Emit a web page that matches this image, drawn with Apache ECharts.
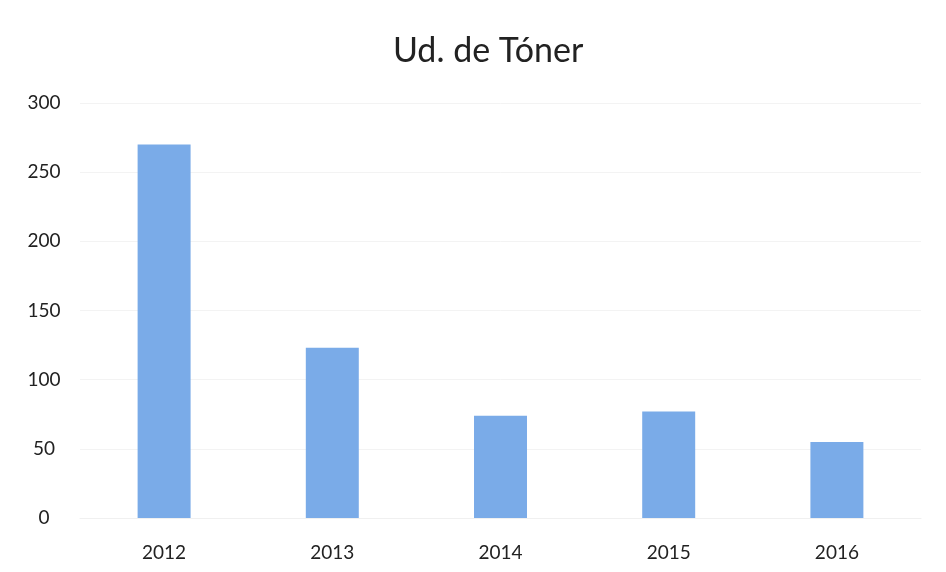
<!DOCTYPE html>
<html>
<head>
<meta charset="utf-8">
<script src="https://cdn.jsdelivr.net/npm/echarts@6/dist/echarts.min.js"></script>
<style>
  html, body { margin: 0; padding: 0; background: #fff; }
  #chart { width: 946px; height: 572px; }
</style>
</head>
<body>
<div id="chart"></div>
<script>
const years = ['2012', '2013', '2014', '2015', '2016']
const units = [270, 123, 74, 77, 55]
const yTicks = [0, 50, 100, 150, 200, 250, 300]

const chart = echarts.init(document.getElementById('chart'))

chart.setOption({
  backgroundColor: '#ffffff',
  animation: false,
  title: {
    text: 'Ud. de Tóner',
    left: 388,
    top: 29,
    textStyle: {
      fontFamily: 'Lato',
      fontSize: 34,
      fontWeight: 'normal',
      color: '#222'
    }
  },
  grid: {
    left: 80,
    right: 25,
    top: 103,
    bottom: 54
  },
  xAxis: {
    type: 'category',
    data: years,
    axisLine: { show: true, lineStyle: { color: '#f0f0f0' } },
    axisTick: { show: false },
    axisLabel: {
      color: '#222',
      fontFamily: 'Lato',
      fontSize: 19,
      margin: 25
    }
  },
  yAxis: {
    type: 'value',
    min: yTicks[0],
    max: yTicks[yTicks.length - 1],
    interval: 50,
    axisLine: { show: false },
    axisTick: { show: false },
    axisLabel: {
      color: '#222',
      fontFamily: 'Lato',
      fontSize: 19,
      align: 'center',
      margin: 36
    },
    splitLine: {
      lineStyle: { color: '#f3f3f3' }
    }
  },
  series: [
    {
      type: 'bar',
      data: units,
      barWidth: '31.5%',
      itemStyle: { color: '#7aabe8' }
    }
  ]
})
</script>
</body>
</html>
